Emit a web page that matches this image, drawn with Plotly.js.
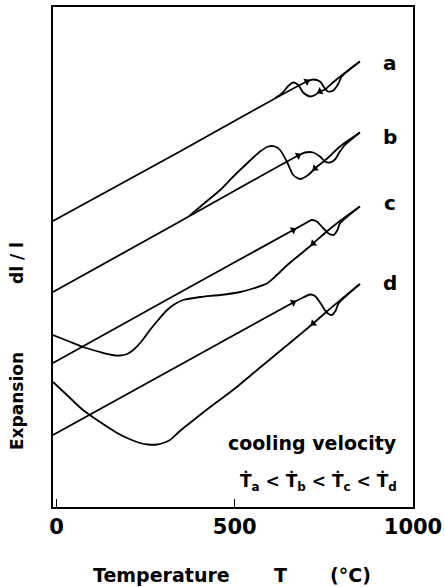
<!DOCTYPE html>
<html>
<head>
<meta charset="utf-8">
<script src="https://cdn.plot.ly/plotly-3.0.1.min.js"></script>
<style>html,body{margin:0;padding:0;background:#fff;}#chart{width:445px;height:587px;}</style>
</head>
<body>
<div id="chart"></div>
<script>
// Temperature (°C) and relative expansion dl/l (arbitrary units)
const aHeatT = [-10, 346, 702, 720, 739, 753, 762, 776, 791, 800, 851];
const aHeatE = [57.2, 71.1, 85.1, 85.5, 85.1, 83.7, 83.1, 83.3, 84.7, 86.1, 89.1];
const aCoolT = [851, 814, 772, 753, 739, 725, 711, 692, 678, 664, 650, 632, 613];
const aCoolE = [89.1, 87.1, 84.7, 83.5, 83.1, 82.4, 82.1, 82.9, 84.4, 84.9, 84.2, 82.7, 81.8];

const bHeatT = [-10, 346, 678, 697, 720, 739, 753, 767, 781, 795, 809, 851];
const bHeatE = [43.0, 57.1, 70.3, 70.9, 70.9, 70.1, 69.1, 68.9, 69.5, 71.1, 72.4, 74.9];
const bCoolT = [851, 795, 767, 749, 725, 706, 683, 664, 646, 627, 613, 594, 571, 534, 496, 459, 417, 374];
const bCoolE = [74.9, 72.1, 70.2, 69.1, 67.7, 66.4, 65.6, 66.4, 69.1, 71.4, 72.1, 72.1, 71.1, 68.7, 66.1, 63.4, 60.9, 58.3];

const cHeatT = [-10, 346, 664, 692, 716, 730, 749, 763, 777, 788, 795, 851];
const cHeatE = [28.8, 42.9, 55.4, 56.5, 57.4, 57.1, 55.7, 54.7, 54.4, 55.4, 56.7, 60.1];
const cCoolT = [851, 795, 758, 720, 683, 646, 618, 590, 551, 515, 459, 403, 355, 332, 310, 285, 262, 237, 215, 198, 178, 156, 122, 74, 32, -10];
const cCoolE = [60.1, 57.2, 55.1, 52.7, 50.5, 48.3, 46.4, 44.7, 43.7, 43.0, 42.4, 42.0, 41.4, 40.6, 39.4, 37.4, 35.4, 33.0, 31.4, 30.6, 30.3, 30.4, 31.0, 32.0, 33.2, 34.4];

const dHeatT = [-10, 346, 664, 692, 711, 725, 744, 758, 772, 784, 791, 851];
const dHeatE = [14.4, 28.4, 40.9, 41.9, 42.5, 42.2, 40.4, 38.9, 38.4, 39.4, 40.7, 44.6];
const dCoolT = [851, 795, 758, 720, 683, 627, 571, 495, 431, 374, 346, 318, 299, 282, 257, 234, 201, 170, 122, 74, 32, -10];
const dCoolE = [44.6, 41.3, 39.1, 36.7, 34.5, 31.2, 27.9, 23.4, 20.0, 16.8, 15.2, 13.4, 12.8, 12.5, 12.5, 12.8, 13.7, 14.8, 17.0, 19.4, 22.2, 25.0];

const curveLabels = ['a', 'b', 'c', 'd'];
const labelT = [935, 935, 935, 935];
const labelE = [88.8, 74.0, 60.8, 44.8];

// arrow heads: index of the point on each heating / cooling path
const heatArrowIdx = [2, 2, 2, 2];
const coolArrowIdx = [4, 4, 3, 3];

const xTicks = [0, 500, 1000];
const xTickText = ['0', '500', '1000'];

const X_RANGE = [-10, 1000], Y_RANGE = [0, 100];
const PLOT_W = 360, PLOT_H = 500;
const sx = PLOT_W / (X_RANGE[1] - X_RANGE[0]);
const sy = PLOT_H / (Y_RANGE[1] - Y_RANGE[0]);

const heat = [[aHeatT, aHeatE], [bHeatT, bHeatE], [cHeatT, cHeatE], [dHeatT, dHeatE]];
const cool = [[aCoolT, aCoolE], [bCoolT, bCoolE], [cCoolT, cCoolE], [dCoolT, dCoolE]];

const lineStyle = {color: '#000', width: 1.8, shape: 'spline', smoothing: 0.7};
const traces = [];
heat.concat(cool).forEach(p => {
  traces.push({x: p[0], y: p[1], mode: 'lines', line: lineStyle, hoverinfo: 'skip', showlegend: false});
});

function arrowAt(T, E, i) {
  const i0 = Math.max(0, i - 1), i1 = Math.min(T.length - 1, i + 1);
  const dx = (T[i1] - T[i0]) * sx;
  const dy = -(E[i1] - E[i0]) * sy;
  return {x: T[i], y: E[i], ang: Math.atan2(dx, -dy) * 180 / Math.PI};
}
const arrows = [];
heat.forEach((p, k) => arrows.push(arrowAt(p[0], p[1], heatArrowIdx[k])));
cool.forEach((p, k) => arrows.push(arrowAt(p[0], p[1], coolArrowIdx[k])));
traces.push({
  x: arrows.map(a => a.x), y: arrows.map(a => a.y), mode: 'markers',
  marker: {symbol: 'triangle-up', size: 7, color: '#000', angle: arrows.map(a => a.ang), line: {width: 0}},
  hoverinfo: 'skip', showlegend: false
});

const font = 'DejaVu Sans, Liberation Sans, sans-serif';
const txt = (size) => ({family: font, size: size, color: '#000', weight: 'bold'});
const ann = (x, y, text, size, extra) => Object.assign({
  x: x, y: y, xref: 'paper', yref: 'paper', text: text, showarrow: false,
  xanchor: 'center', yanchor: 'middle', font: txt(size)
}, extra || {});

const annotations = curveLabels.map((t, k) => ann(labelT[k], labelE[k], t, 20, {xref: 'x', yref: 'y'}));
annotations.push(
  ann(718, 12.8, 'cooling velocity', 19, {xref: 'x', yref: 'y'}),
  ann(736, 5.0, 'Ṫ<sub>a</sub> &lt; Ṫ<sub>b</sub> &lt; Ṫ<sub>c</sub> &lt; Ṫ<sub>d</sub>', 17, {xref: 'x', yref: 'y'}),
  ann(-0.1, 0.212, 'Expansion', 17, {textangle: -90}),
  ann(-0.1, 0.488, 'dl / l', 17, {textangle: -90}),
  ann(0.30, -0.136, 'Temperature', 19),
  ann(0.633, -0.136, 'T', 19),
  ann(0.825, -0.136, '(°C)', 19)
);

const layout = {
  width: 445, height: 587,
  margin: {l: 53, r: 32, t: 7, b: 80, pad: 0},
  paper_bgcolor: '#fff', plot_bgcolor: '#fff',
  showlegend: false,
  xaxis: {range: X_RANGE, tickvals: xTicks, ticktext: xTickText, ticks: 'inside', ticklen: 8, tickwidth: 1.2,
          tickcolor: '#000', showgrid: false, zeroline: false, showline: true, linecolor: '#000', linewidth: 1.8,
          mirror: true, tickfont: txt(21)},
  yaxis: {range: Y_RANGE, showticklabels: false, ticks: '', showgrid: false, zeroline: false,
          showline: true, linecolor: '#000', linewidth: 1.8, mirror: true},
  annotations: annotations
};

Plotly.newPlot('chart', traces, layout, {displayModeBar: false, staticPlot: true});
</script>
</body>
</html>
